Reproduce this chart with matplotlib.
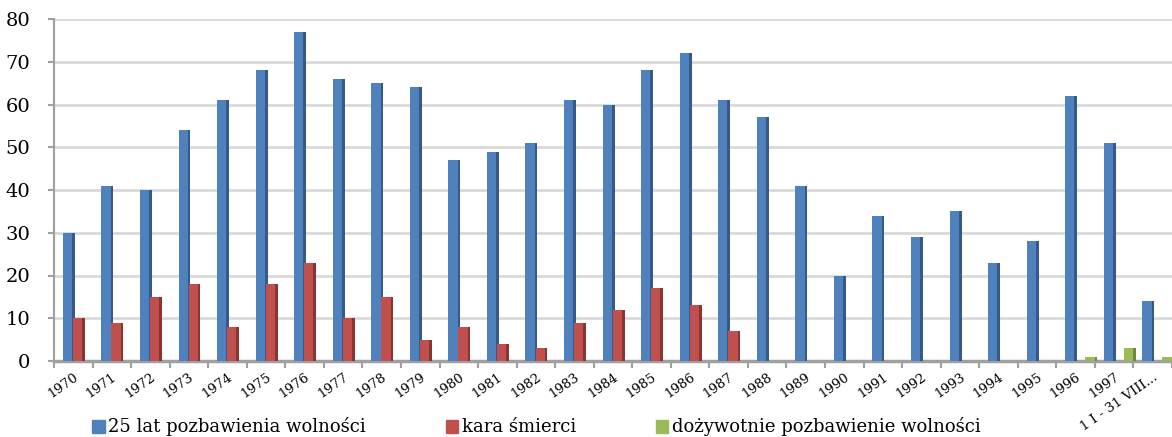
import numpy as np
import matplotlib
matplotlib.use("Agg")
import matplotlib.pyplot as plt
from matplotlib.patches import Patch

# Data
categories = [str(y) for y in range(1970, 1998)] + ["1 I - 31 VIII..."]
lat25 = [30, 41, 40, 54, 61, 68, 77, 66, 65, 64, 47, 49, 51, 61, 60, 68, 72, 61,
         57, 41, 20, 34, 29, 35, 23, 28, 62, 51, 14]
kara_smierci = [10, 9, 15, 18, 8, 18, 23, 10, 15, 5, 8, 4, 3, 9, 12, 17, 13, 7,
                0, 0, 0, 0, 0, 0, 0, 0, 0, 0, 0]
dozywocie = [0] * 26 + [1, 3, 1]

series = [
    ("25 lat pozbawienia wolności", lat25, "#4F81BD", "#37598A"),
    ("kara śmierci", kara_smierci, "#C0504D", "#8A3532"),
    ("dożywotnie pozbawienie wolności", dozywocie, "#9BBB59", "#71893E"),
]

plt.rcParams['font.family'] = ['DejaVu Serif']

fig = plt.figure(figsize=(11.72, 4.37), dpi=100)
ax = fig.add_axes([54 / 1172, 1 - 361 / 437, 1 - 54 / 1172, (361 - 19) / 437])

x = np.arange(len(categories))
w = 0.24
side = 0.07
offsets = [-0.15, 0.11, 0.37]

# front face + darker side strip for a 3D look
for (name, vals, col, dark), off in zip(series, offsets):
    vals = np.array(vals)
    ax.bar(x + off, vals, width=w, color=col, zorder=3)
    ax.bar(x + off + w / 2 + side / 2, vals, width=side, color=dark, zorder=3)

ax.set_ylim(0, 80)
ax.set_xlim(-0.5, 28.42)
ax.set_yticks(range(0, 81, 10))
ax.tick_params(axis='y', labelsize=14, length=4, pad=13, color='#A0A0A0', width=1.5)
ax.set_xticks(x)
ax.set_xticklabels(categories, rotation=35, ha='right', rotation_mode='anchor',
                   fontsize=9.5)
ax.tick_params(axis='x', which='major', length=0, pad=7)
ax.set_xticks(np.arange(-0.5, 29, 1), minor=True)
ax.tick_params(axis='x', which='minor', length=5, color='#A0A0A0', width=1.5)

ax.grid(axis='y', color='#D9D9D9', linewidth=2, zorder=0)
for s in ['top', 'right']:
    ax.spines[s].set_visible(False)
ax.spines['left'].set_color('#A0A0A0')
ax.spines['left'].set_linewidth(1.5)
ax.spines['bottom'].set_color('#A0A0A0')
ax.spines['bottom'].set_linewidth(2.5)

handles = [Patch(color=col, label=name) for name, vals, col, dark in series]
fig.legend(handles=handles, loc='center left', bbox_to_anchor=(76 / 1172, 1 - 427 / 437),
           ncol=3, frameon=False, fontsize=13, handlelength=0.7, handleheight=0.7,
           handletextpad=0.2, columnspacing=4.4)

fig.savefig("out.png", dpi=100)
